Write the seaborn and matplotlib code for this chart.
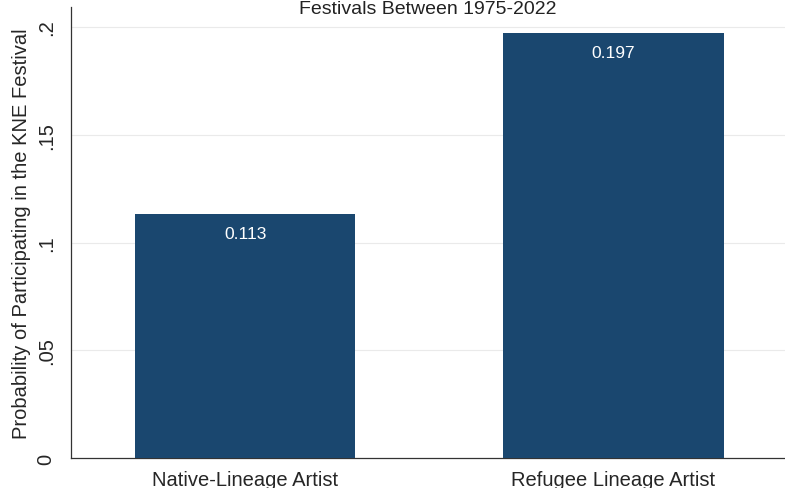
import matplotlib
matplotlib.use("Agg")
import matplotlib.pyplot as plt
import seaborn as sns
import pandas as pd

categories = ["Native-Lineage Artist", "Refugee Lineage Artist"]
values = [0.113, 0.197]
value_labels = ["0.113", "0.197"]
yticks = [0, 0.05, 0.10, 0.15, 0.20]
ytick_labels = ["0", ".05", ".1", ".15", ".2"]
title = "Festivals Between 1975-2022"
ylabel = "Probability of Participating in the KNE Festival"

sns.set_style("white")
plt.rcParams["font.family"] = ["Liberation Sans", "DejaVu Sans"]

df = pd.DataFrame({"group": categories, "prob": values})

W, H = 785, 489
fig = plt.figure(figsize=(W / 100, H / 100), dpi=100)
top_px, bot_px, left_px = 8, 459, 71
ax = fig.add_axes([left_px / W, (H - bot_px) / H, (W - left_px) / W, (bot_px - top_px) / H])

sns.barplot(data=df, x="group", y="prob", color="#1a476f", saturation=1,
            width=0.6, ax=ax, zorder=3)
for p in ax.patches:
    p.set_edgecolor("none")

ax.set_ylim(0, 0.2 * (bot_px - top_px) / (bot_px - 28))
ax.set_xlim(-0.473, 1.467)
ax.set_yticks(yticks)
ax.set_yticklabels(ytick_labels, rotation=90, va="center", fontsize=14.5)
ax.tick_params(axis="y", length=6, width=0.8, color="#333333", pad=5)
ax.tick_params(axis="x", length=0, pad=9, labelsize=14.5)
for yt in yticks[1:]:
    ax.axhline(yt, color="#eaeaea", lw=0.8, zorder=0)
ax.set_xlabel("")
ax.set_ylabel(ylabel, fontsize=14.5, labelpad=4)

sns.despine(ax=ax, top=True, right=True)
for s in ("left", "bottom"):
    ax.spines[s].set_color("#333333")
    ax.spines[s].set_linewidth(0.9)

for p, lab in zip(ax.patches, value_labels):
    x = p.get_x() + p.get_width() / 2
    ax.annotate(lab, (x, p.get_height()), xytext=(0, -14), textcoords="offset points",
                ha="center", va="center", color="white", fontsize=12.5)

fig.text(428 / W, 1 - 1 / H, title, ha="center", va="top", fontsize=14, color="#222222")

fig.savefig("out.png", dpi=100)
